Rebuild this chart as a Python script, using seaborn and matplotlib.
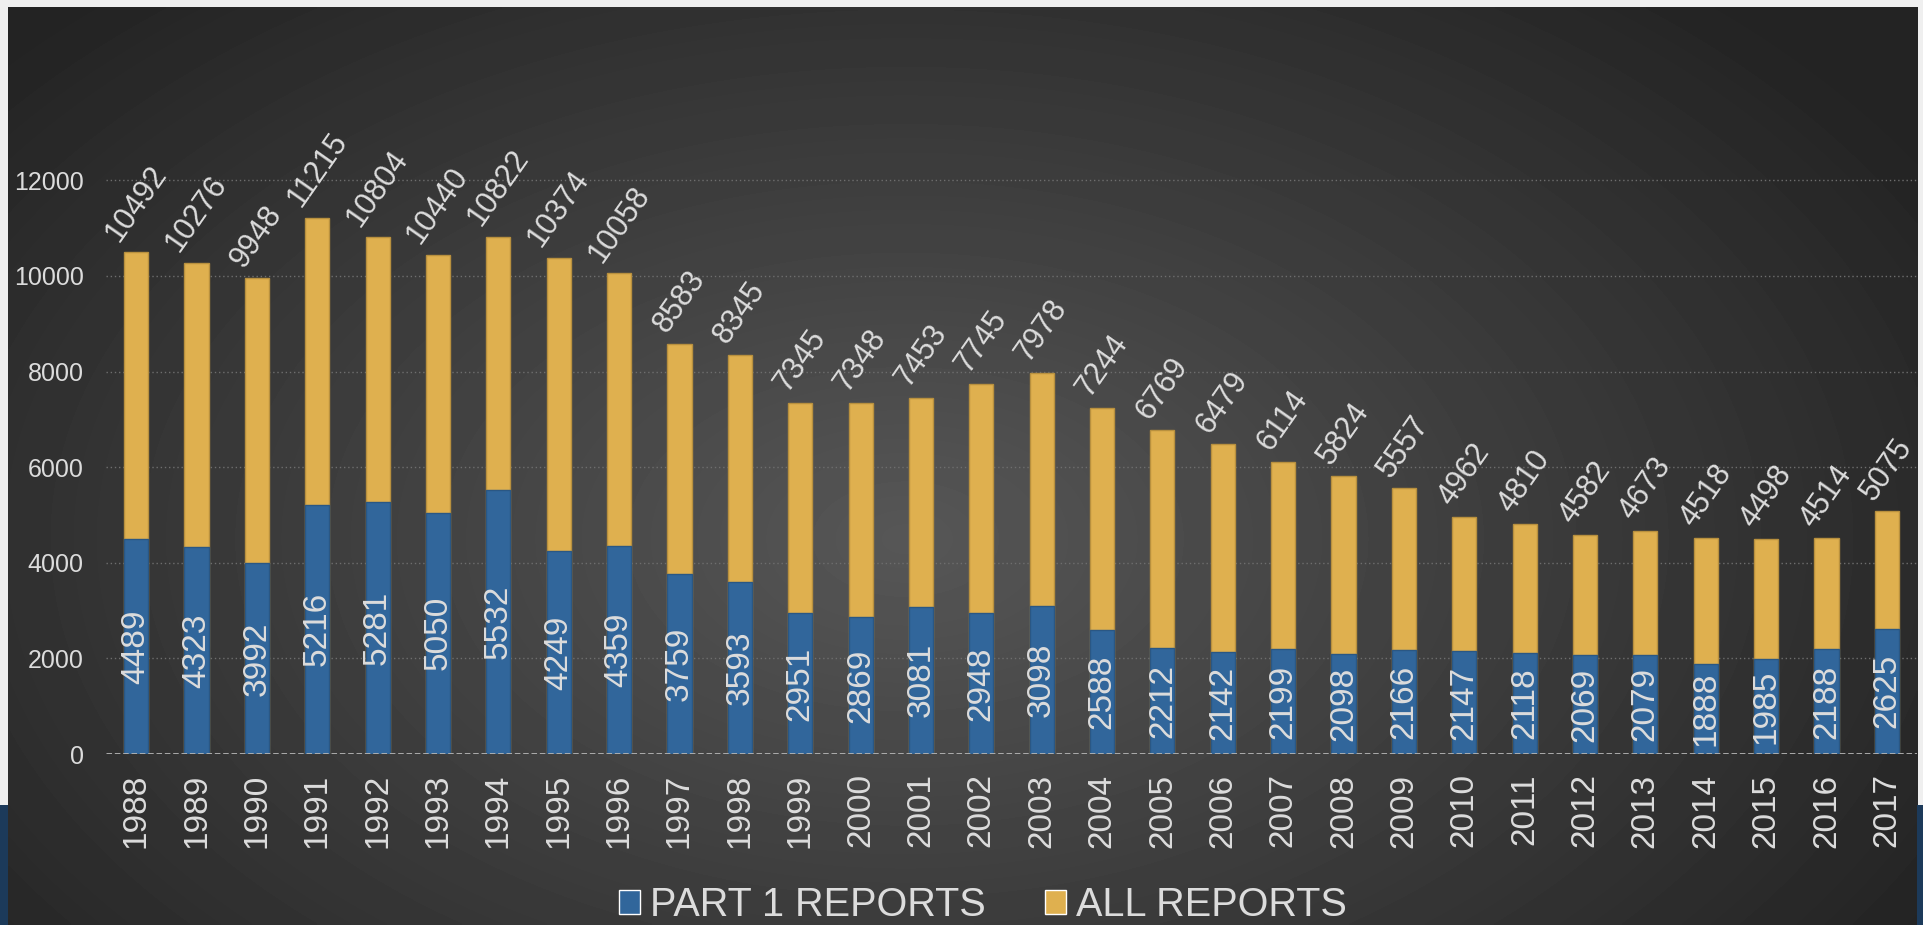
import numpy as np
import pandas as pd
import seaborn as sns
import matplotlib.pyplot as plt
from matplotlib import font_manager
from matplotlib.patches import Patch, Rectangle

years = [str(y) for y in range(1988, 2018)]
part1 = [4489, 4323, 3992, 5216, 5281, 5050, 5532, 4249, 4359, 3759,
         3593, 2951, 2869, 3081, 2948, 3098, 2588, 2212, 2142, 2199,
         2098, 2166, 2147, 2118, 2069, 2079, 1888, 1985, 2188, 2625]
all_reports = [10492, 10276, 9948, 11215, 10804, 10440, 10822, 10374, 10058, 8583,
               8345, 7345, 7348, 7453, 7745, 7978, 7244, 6769, 6479, 6114,
               5824, 5557, 4962, 4810, 4582, 4673, 4518, 4498, 4514, 5075]
yticks = [0, 2000, 4000, 6000, 8000, 10000, 12000]

df = pd.DataFrame({'year': years, 'part1': part1, 'total': all_reports})

blue = '#31669b'
gold = '#dfb04f'
txt = '#dcdcdc'

sns.set_style('dark')
plt.rcParams['font.family'] = ['Liberation Sans', 'DejaVu Sans']

# narrow face for the bar / year labels, if it is there
names = {f.name for f in font_manager.fontManager.ttflist}
narrow = 'Liberation Sans Narrow' if 'Liberation Sans Narrow' in names else 'Liberation Sans'
print('narrow font:', narrow)

W, H = 1923, 925
fig = plt.figure(figsize=(W / 100, H / 100), dpi=100)
fig.patch.set_facecolor('#efefef')

# dark slide panel with a soft radial gradient
bg = fig.add_axes([8 / W, 0, (1917 - 8) / W, (H - 7) / H])
yy, xx = np.mgrid[0:1:300j, 0:1:600j]
d = np.sqrt(((xx - 0.47) / 0.62) ** 2 + ((yy - 0.58) / 0.8) ** 2)
v = np.clip(1 - d, 0, 1)
shade = 0.14 + 0.20 * v
bg.imshow(shade, cmap='gray', vmin=0, vmax=1, aspect='auto', interpolation='bilinear')
bg.axis('off')

# navy strips at the lower edges
fig.patches.append(Rectangle((0, 0), 8 / W, (H - 805) / H, transform=fig.transFigure,
                             facecolor='#1c3a5a', edgecolor='none', zorder=0))
fig.patches.append(Rectangle((1917 / W, 0), 6 / W, (H - 805) / H, transform=fig.transFigure,
                             facecolor='#1c3a5a', edgecolor='none', zorder=0))

ax = fig.add_axes([106 / W, 1 - 754 / H, (1917 - 106) / W, (754 - 60) / H])
ax.patch.set_alpha(0)

sns.barplot(data=df, x='year', y='total', color=gold, saturation=1, width=0.4,
            edgecolor='#b8903e', linewidth=1, ax=ax, zorder=3)
sns.barplot(data=df, x='year', y='part1', color=blue, saturation=1, width=0.4,
            edgecolor='#2a5784', linewidth=1, ax=ax, zorder=4)

ax.bar_label(ax.containers[0], labels=[str(v) for v in all_reports], rotation=55,
             fontsize=22, color=txt, padding=4, family=narrow, zorder=6)
ax.bar_label(ax.containers[1], labels=[str(v) for v in part1], label_type='center',
             rotation=90, fontsize=24, color=txt, family=narrow, zorder=6)

ymax = 12000 * (754 - 60) / (754 - 180.3)
ax.set_ylim(0, ymax)
ax.set_xlim(-0.5, 29.5)
ax.set_yticks(yticks)
ax.set_yticklabels([str(t) for t in yticks])
ax.tick_params(axis='y', length=0, pad=16, labelsize=18, labelcolor=txt)
ax.tick_params(axis='x', length=0, pad=14, labelsize=24, labelcolor=txt, labelrotation=90)
for lab in ax.get_xticklabels():
    lab.set_family(narrow)
ax.grid(False)
for t in yticks[1:]:
    ax.axhline(t, color='#6e6e6e', lw=1, linestyle=(0, (1, 2)), zorder=1)
ax.axhline(0, color='#b5b5b5', lw=2, linestyle=(0, (2, 1)), zorder=5)
for s in ax.spines.values():
    s.set_visible(False)
ax.set_xlabel('')
ax.set_ylabel('')

handles = [Patch(facecolor=blue, label='PART 1 REPORTS'),
           Patch(facecolor=gold, label='ALL REPORTS')]
fig.legend(handles=handles, loc='center', bbox_to_anchor=(0.511, 1 - 905 / H), ncol=2,
           frameon=False, fontsize=28.5, labelcolor=txt, handlelength=0.53,
           handleheight=0.53, handletextpad=0.25, columnspacing=1.5)

fig.savefig('out.png', dpi=100, facecolor=fig.get_facecolor())
